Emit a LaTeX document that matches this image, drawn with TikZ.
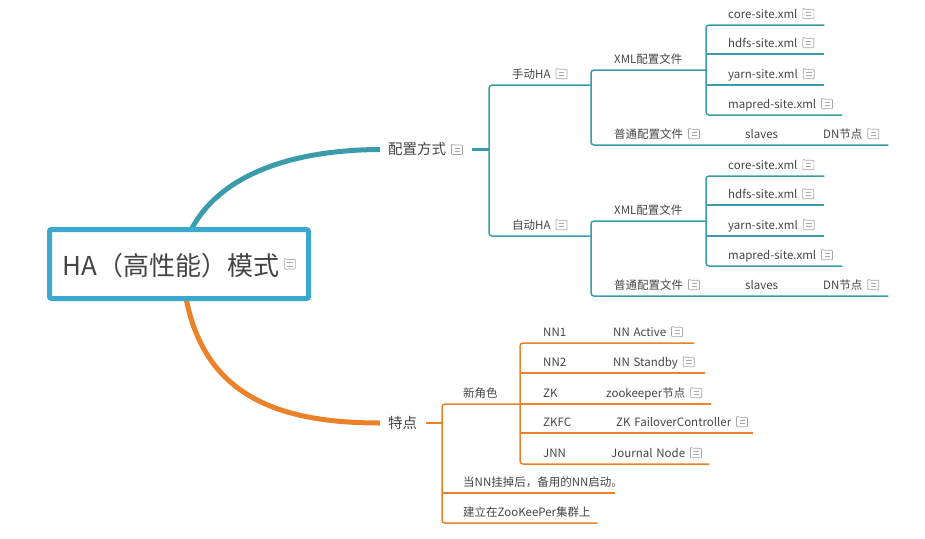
\documentclass[tikz,border=0pt]{standalone}
\usepackage{fontspec}
\setmainfont{Noto Sans CJK SC}
\definecolor{tealline}{HTML}{3A9CAB}
\definecolor{orangeline}{HTML}{EB8128}
\definecolor{rootline}{HTML}{3DA8CE}
\definecolor{notegray}{HTML}{A8A8A8}
\definecolor{textgray}{HTML}{444444}
\newcommand{\noteicon}{\hspace{5pt}\tikz[baseline=0pt,x=1pt,y=1pt,line width=.7pt,notegray]{\draw[rounded corners=.8pt] (0,0) -- (11,0) -- (11,9.5) -- (3,9.5) -- (0,10.5) -- cycle; \draw (3,6.5) -- (8.5,6.5) (3,3) -- (8.5,3);}}
\tikzset{
  topic/.style 2 args={anchor=south west, inner xsep=0pt, inner ysep=6pt, text depth=0pt, text height=10pt, align=left, text width=#1pt, execute at begin node={\hspace*{#2pt}}},
  head/.style={font=\fontsize{14.5}{17}\selectfont, inner ysep=0pt, text height=14.5pt, text depth=4.5pt, anchor=west},
  twig/.style={line width=1.5pt, rounded corners=3pt},
  bough/.style={line width=5pt, line cap=butt},
  stem/.style={line width=2.5pt}
}
\begin{document}
\begin{tikzpicture}[x=1pt,y=-1pt,font=\fontsize{11.5}{14}\selectfont,text=textgray]
      \useasboundingbox (0,0) rectangle (925,538);
      \coordinate (rootT) at (191,230);
      \coordinate (rootB) at (186,298);
      % main branches go first, the box covers their ends
      \node[topic={92}{8}, head] (peizhi) at (380,149.5) {配置方式\noteicon};
      \node[topic={46}{8}, head] (tedian) at (380,423) {特点};
      \draw[bough, tealline] (rootT) .. controls (218,178) and (285,150) .. (peizhi.west);
      \draw[bough, orangeline] (rootB) .. controls (205,397) and (280,423) .. (tedian.west);
      \node[draw=rootline, line width=5pt, rounded corners=2pt, fill=white, minimum width=259pt, minimum height=69pt, inner sep=0pt, text height=30pt, text depth=8pt, font=\fontsize{26}{31}\selectfont] (root) at (179,264) {HA（高性能）模式\raisebox{6pt}{\noteicon}};

      \foreach \n/\dy/\t in {a/0/手动HA, b/151/自动HA} {
        \node[topic={102}{23}] (way\n) at (489,85+\dy) {\t\noteicon};
        \node[topic={115}{23}] (xml\n) at (591,70+\dy) {XML配置文件};
        \node[topic={118}{22}] (core\n) at (706,25+\dy) {core-site.xml\noteicon};
        \node[topic={118}{22}] (hdfs\n) at (706,54+\dy) {hdfs-site.xml\noteicon};
        \node[topic={118}{22}] (yarn\n) at (706,85+\dy) {yarn-site.xml\noteicon};
        \node[topic={136}{22}] (mapred\n) at (706,115+\dy) {mapred-site.xml\noteicon};
        \node[topic={117}{23}] (conf\n) at (591,145+\dy) {普通配置文件\noteicon};
        \node[topic={77}{37}] (slaves\n) at (708,145+\dy) {slaves};
        \node[topic={103}{38}] (dn\n) at (785,145+\dy) {DN节点\noteicon};

        \draw[twig, tealline] (way\n.south east) -- (conf\n.south west |- way\n.south east);
        \draw[twig, tealline] (xml\n.south east) -- (xml\n.south west) -- (conf\n.south west) -- (conf\n.south east) -- (slaves\n.south east) -- (dn\n.south east);
        \draw[twig, tealline] (core\n.south east) -- (core\n.south west) -- (mapred\n.south west) -- (mapred\n.south east);
        \draw[twig, tealline] (hdfs\n.south west) -- (hdfs\n.south east);
        \draw[twig, tealline] (yarn\n.south west) -- (yarn\n.south east);
      }
      \draw[stem, tealline] (peizhi.east) -- (waya.south west |- peizhi.east);
      \draw[twig, tealline] (waya.south east) -- (waya.south west) -- (wayb.south west) -- (wayb.south east);

      \node[topic={78}{21}] (roles) at (442,404) {新角色};
      \node[topic={173}{21}] (backup) at (442,493) {\mbox{当NN挂掉后，备用的NN启动。}};
      \node[topic={155}{21}] (zoo) at (442,523) {\mbox{建立在ZooKeePer集群上}};
      \node[topic={56}{23}] (nna) at (520,343) {NN1};
      \node[topic={56}{23}] (nnb) at (520,373) {NN2};
      \node[topic={48}{23}] (zk) at (520,404) {ZK};
      \node[topic={58}{23}] (zkfc) at (520,433) {ZKFC};
      \node[topic={52}{23}] (jnn) at (520,464) {JNN};
      \node[topic={118}{37}] (active) at (576,343) {NN Active\noteicon};
      \node[topic={129}{37}] (standby) at (576,373) {NN Standby\noteicon};
      \node[topic={143}{38}] (zknode) at (568,404) {zookeeper节点\noteicon};
      \node[topic={175}{38}] (failover) at (578,433) {ZK FailoverController\noteicon};
      \node[topic={137}{39}] (journal) at (572,464) {Journal Node\noteicon};

      \draw[stem, orangeline] (tedian.east) -- (roles.south west |- tedian.east);
      \draw[twig, orangeline] (roles.south east) -- (roles.south west) -- (zoo.south west) -- (zoo.south east);
      \draw[twig, orangeline] (backup.south west) -- (backup.south east);
      \draw[twig, orangeline] (active.south east) -- (nna.south west) -- (jnn.south west) -- (journal.south east);
      \draw[twig, orangeline] (nnb.south west) -- (standby.south east);
      \draw[twig, orangeline] (zk.south west) -- (zknode.south east);
      \draw[twig, orangeline] (zkfc.south west) -- (failover.south east);
    \end{tikzpicture}
\end{document}
